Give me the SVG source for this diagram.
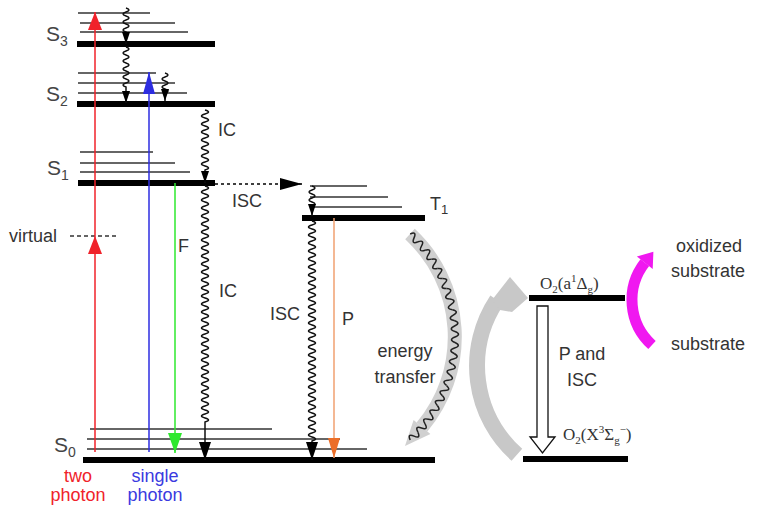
<svg xmlns="http://www.w3.org/2000/svg" width="758" height="518" viewBox="0 0 758 518">
<style>
.thick{stroke:#000;stroke-width:6;fill:none}
.thin{stroke:#333;stroke-width:1.5;fill:none}
.wave{stroke:#111;stroke-width:1.5;fill:none}
.lbl{font-family:"Liberation Sans",Arial,sans-serif;font-size:18px;fill:#333}
.slbl{font-family:"Liberation Sans",Arial,sans-serif;font-size:21px;fill:#444}
.ser{font-family:"Liberation Serif","Times New Roman",serif;font-size:17px;fill:#333}
</style>
<defs>
<marker id="mRed" viewBox="0 0 18 14" refX="18" refY="7" markerWidth="18" markerHeight="14" markerUnits="userSpaceOnUse" orient="auto"><path d="M0 0L18 7L0 14z" fill="#f0222a"/></marker>
<marker id="mBlue" viewBox="0 0 22 12" refX="22" refY="6" markerWidth="22" markerHeight="12" markerUnits="userSpaceOnUse" orient="auto"><path d="M0 0L22 6L0 12z" fill="#2d2de0"/></marker>
<marker id="mGreen" viewBox="0 0 20 14" refX="20" refY="7" markerWidth="20" markerHeight="14" markerUnits="userSpaceOnUse" orient="auto"><path d="M0 0L20 7L0 14z" fill="#2ee82e"/></marker>
<marker id="mOrange" viewBox="0 0 20 12" refX="20" refY="6" markerWidth="20" markerHeight="12" markerUnits="userSpaceOnUse" orient="auto"><path d="M0 0L20 6L0 12z" fill="#ec6e28"/></marker>
<marker id="mBk" viewBox="0 0 18 12" refX="18" refY="6" markerWidth="18" markerHeight="12" markerUnits="userSpaceOnUse" orient="auto"><path d="M0 0L18 6L0 12z" fill="#000"/></marker>
<marker id="mBks" viewBox="0 0 12 8" refX="12" refY="4" markerWidth="12" markerHeight="8" markerUnits="userSpaceOnUse" orient="auto"><path d="M0 0L12 4L0 8z" fill="#000"/></marker>
<marker id="mDash" viewBox="0 0 22 12" refX="22" refY="6" markerWidth="22" markerHeight="12" markerUnits="userSpaceOnUse" orient="auto"><path d="M0 0L22 6L0 12z" fill="#000"/></marker>
<path id="wunit" d="M455 331.5q7 2.75 0 5.5q-7 2.75 0 5.5" stroke="#222" stroke-width="1.5" fill="none"/>
</defs>

<g id="S3">
<line class="thin" x1="78" y1="13" x2="150" y2="13"/>
<line class="thin" x1="80" y1="23" x2="175" y2="23"/>
<line class="thin" x1="80" y1="32" x2="188" y2="32"/>
<line class="thick" x1="77" y1="44" x2="215" y2="44"/>
<text class="slbl" x="46" y="41">S<tspan font-size="14" dy="5">3</tspan></text>
</g>
<g id="S2">
<line class="thin" x1="78" y1="73" x2="156" y2="73"/>
<line class="thin" x1="78" y1="83" x2="175" y2="83"/>
<line class="thin" x1="78" y1="93" x2="187" y2="93"/>
<line class="thick" x1="77" y1="104" x2="215" y2="104"/>
<text class="slbl" x="46" y="101">S<tspan font-size="14" dy="5">2</tspan></text>
</g>
<g id="S1">
<line class="thin" x1="80" y1="152" x2="153" y2="152"/>
<line class="thin" x1="80" y1="163" x2="175" y2="163"/>
<line class="thin" x1="80" y1="172" x2="190" y2="172"/>
<line class="thick" x1="78" y1="183" x2="215" y2="183"/>
<text class="slbl" x="47" y="175">S<tspan font-size="14" dy="5">1</tspan></text>
</g>
<g id="virtual">
<line x1="70" y1="236" x2="118" y2="236" stroke="#333" stroke-width="1.5" stroke-dasharray="4 3"/>
<text class="lbl" x="9" y="242">virtual</text>
</g>
<g id="T1">
<line class="thin" x1="310" y1="186" x2="367" y2="186"/>
<line class="thin" x1="310" y1="197" x2="388" y2="197"/>
<line class="thin" x1="310" y1="207" x2="402" y2="207"/>
<line class="thick" x1="302" y1="218" x2="425" y2="218"/>
<text class="lbl" x="430" y="210">T<tspan font-size="13" dy="4">1</tspan></text>
</g>
<g id="S0">
<line class="thin" x1="90" y1="429" x2="272" y2="429"/>
<line class="thin" x1="87" y1="439" x2="340" y2="439"/>
<line class="thin" x1="87" y1="449" x2="367" y2="449"/>
<line class="thick" x1="83" y1="460" x2="435" y2="460"/>
<text class="slbl" x="54" y="452">S<tspan font-size="14" dy="5">0</tspan></text>
</g>
<g id="O2a">
<line class="thick" x1="529" y1="298" x2="625" y2="298"/>
<text class="ser" x="540" y="289">O<tspan font-size="11" dy="4">2</tspan><tspan dy="-4">(a</tspan><tspan font-size="11" dy="-7">1</tspan><tspan dy="7">Δ</tspan><tspan font-size="11" dy="4">g</tspan><tspan dy="-4">)</tspan></text>
</g>
<g id="O2X">
<line class="thick" x1="523" y1="459" x2="628" y2="459"/>
<text class="ser" x="563" y="440">O<tspan font-size="11" dy="4">2</tspan><tspan dy="-4">(X</tspan><tspan font-size="11" dy="-7">3</tspan><tspan dy="7">Σ</tspan><tspan font-size="11" dy="4">g</tspan><tspan font-size="11" dy="-11">−</tspan><tspan dy="7">)</tspan></text>
</g>
<g id="substrates">
<text class="lbl" x="709" y="252" text-anchor="middle">oxidized</text>
<text class="lbl" x="708" y="277" text-anchor="middle">substrate</text>
<text class="lbl" x="708" y="350" text-anchor="middle">substrate</text>
</g>

<g id="connectors">
<path d="M410 234A140.4 140.4 0 0 1 422 427" stroke="#d0d0d0" stroke-width="14" fill="none"/>
<polygon points="430.4,434.1 413.6,419.9 405,446" fill="#d0d0d0"/>
<g id="etwave">
<use href="#wunit" transform="rotate(-44.9 314.6 337)"/>
<use href="#wunit" transform="rotate(-40.4 314.6 337)"/>
<use href="#wunit" transform="rotate(-35.9 314.6 337)"/>
<use href="#wunit" transform="rotate(-31.4 314.6 337)"/>
<use href="#wunit" transform="rotate(-26.9 314.6 337)"/>
<use href="#wunit" transform="rotate(-22.4 314.6 337)"/>
<use href="#wunit" transform="rotate(-17.9 314.6 337)"/>
<use href="#wunit" transform="rotate(-13.4 314.6 337)"/>
<use href="#wunit" transform="rotate(-8.98 314.6 337)"/>
<use href="#wunit" transform="rotate(-4.49 314.6 337)"/>
<use href="#wunit"/>
<use href="#wunit" transform="rotate(4.49 314.6 337)"/>
<use href="#wunit" transform="rotate(8.98 314.6 337)"/>
<use href="#wunit" transform="rotate(13.4 314.6 337)"/>
<use href="#wunit" transform="rotate(17.9 314.6 337)"/>
<use href="#wunit" transform="rotate(22.4 314.6 337)"/>
<use href="#wunit" transform="rotate(26.9 314.6 337)"/>
<use href="#wunit" transform="rotate(31.4 314.6 337)"/>
<use href="#wunit" transform="rotate(35.9 314.6 337)"/>
<use href="#wunit" transform="rotate(40.4 314.6 337)"/>
<use href="#wunit" transform="rotate(44.9 314.6 337)"/>
</g>
<path d="M516.9 454.8A119 119 0 0 1 497 300" stroke="#c8c8c8" stroke-width="16" fill="none"/>
<polygon points="492,300 510,277 528,298 512,312 500,310" fill="#c8c8c8"/>
<path d="M652 345A60.6 60.6 0 0 1 644.8 262.7" stroke="#f018f0" stroke-width="11" fill="none"/>
<polygon points="653.4,251.7 652.7,268.9 636.9,256.5" fill="#f018f0"/>
<path d="M537 306H548V437H555L542.5 453L530 437H537Z" fill="#fff" stroke="#111" stroke-width="1.3"/>
<path d="M95 452V236" stroke="#f0222a" stroke-width="1.5" fill="none" marker-end="url(#mRed)"/>
<path d="M95 236V12" stroke="#f0222a" stroke-width="1.5" fill="none" marker-end="url(#mRed)"/>
<path d="M149 452V72" stroke="#2d2de0" stroke-width="1.5" fill="none" marker-end="url(#mBlue)"/>
<path d="M175 183V453" stroke="#2ee82e" stroke-width="1.5" fill="none" marker-end="url(#mGreen)"/>
<path d="M334 218V458" stroke="#f0a070" stroke-width="1.5" fill="none" marker-end="url(#mOrange)"/>
<path d="M215 184H302" stroke="#000" stroke-width="1.5" stroke-dasharray="3 3" fill="none" marker-end="url(#mDash)"/>
<path class="wave" d="M126 8q6 2 0 4t0 4t0 4t0 4t0 4t0 4V44" marker-end="url(#mBks)"/>
<path class="wave" d="M126 47q6 2 0 4t0 4t0 4t0 4t0 4t0 4t0 4t0 4t0 4t0 4V103" marker-end="url(#mBks)"/>
<path class="wave" d="M165 73q6 2 0 4t0 4t0 4t0 4t0 4V101" marker-end="url(#mBks)"/>
<path class="wave" d="M205 110q7 2 0 4t0 4t0 4t0 4t0 4t0 4t0 4t0 4t0 4t0 4t0 4t0 4t0 4t0 4t0 4V183" marker-end="url(#mBks)"/>
<path class="wave" d="M205 186q7 2 0 4t0 4t0 4t0 4t0 4t0 4t0 4t0 4t0 4t0 4t0 4t0 4t0 4t0 4t0 4t0 4t0 4t0 4t0 4t0 4t0 4t0 4t0 4t0 4t0 4t0 4t0 4t0 4t0 4t0 4t0 4t0 4t0 4t0 4t0 4t0 4t0 4t0 4t0 4t0 4t0 4t0 4t0 4t0 4t0 4t0 4t0 4t0 4t0 4t0 4t0 4t0 4t0 4t0 4t0 4t0 4t0 4t0 4t0 4V460" marker-end="url(#mBk)"/>
<path class="wave" d="M312 186q6 2 0 4t0 4t0 4t0 4t0 4V216" marker-end="url(#mBks)"/>
<path class="wave" d="M312 221q7 2 0 4t0 4t0 4t0 4t0 4t0 4t0 4t0 4t0 4t0 4t0 4t0 4t0 4t0 4t0 4t0 4t0 4t0 4t0 4t0 4t0 4t0 4t0 4t0 4t0 4t0 4t0 4t0 4t0 4t0 4t0 4t0 4t0 4t0 4t0 4t0 4t0 4t0 4t0 4t0 4t0 4t0 4t0 4t0 4t0 4t0 4t0 4t0 4t0 4t0 4t0 4t0 4t0 4t0 4t0 4V460" marker-end="url(#mBk)"/>
</g>

<g id="labels">
<text class="lbl" x="218" y="136">IC</text>
<text class="lbl" x="232" y="207">ISC</text>
<text class="lbl" x="178" y="252">F</text>
<text class="lbl" x="219" y="297">IC</text>
<text class="lbl" x="270" y="320">ISC</text>
<text class="lbl" x="342" y="325">P</text>
<text class="lbl" x="405" y="357" text-anchor="middle">energy</text>
<text class="lbl" x="405" y="383" text-anchor="middle">transfer</text>
<text class="lbl" x="582" y="360" text-anchor="middle">P and</text>
<text class="lbl" x="582" y="386" text-anchor="middle">ISC</text>
<text class="lbl" x="78" y="482" text-anchor="middle" style="fill:#f0222a">two</text>
<text class="lbl" x="78" y="501" text-anchor="middle" style="fill:#f0222a">photon</text>
<text class="lbl" x="155" y="482" text-anchor="middle" style="fill:#3a3ae0">single</text>
<text class="lbl" x="155" y="501" text-anchor="middle" style="fill:#3a3ae0">photon</text>
</g>
</svg>
